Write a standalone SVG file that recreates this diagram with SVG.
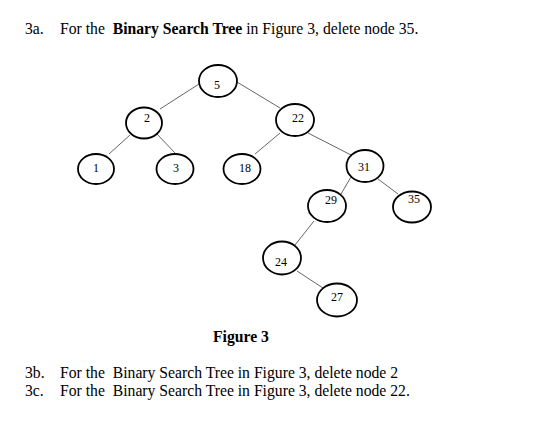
<svg xmlns="http://www.w3.org/2000/svg" width="533" height="425" viewBox="0 0 533 425">
<style>
.t{font-family:"Liberation Serif","Times New Roman",serif;font-size:15.7px;fill:#000;white-space:pre}
.b{font-weight:bold}
.n ellipse{fill:#fff;stroke:#000;stroke-width:1.8}
.n text{font-family:"Liberation Serif","Times New Roman",serif;font-size:12px;fill:#000;text-anchor:middle}
#edges line{stroke:#666;stroke-width:1}
</style>
<rect width="533" height="425" fill="#fff"/>
<text class="t" x="25" y="34">3a.</text>
<text class="t" x="60" y="34" xml:space="preserve">For the  <tspan class="b">Binary Search Tree</tspan> in Figure 3, delete node 35.</text>
<g id="edges">
<line x1="199" y1="84" x2="160" y2="109"/>
<line x1="237" y1="82" x2="280" y2="108"/>
<line x1="130" y1="135" x2="109" y2="154"/>
<line x1="157" y1="134" x2="175" y2="153"/>
<line x1="280" y1="133" x2="255" y2="154"/>
<line x1="308" y1="133" x2="353" y2="156"/>
<line x1="351" y1="177" x2="341" y2="194"/>
<line x1="378" y1="179" x2="398" y2="194"/>
<line x1="314" y1="221" x2="295" y2="245"/>
<line x1="297" y1="271" x2="323" y2="288"/>
</g>
<g id="n5" class="n"><ellipse cx="218" cy="81" rx="19" ry="16"/><text x="217" y="89">5</text></g>
<g id="n2" class="n"><ellipse cx="144" cy="123" rx="18" ry="15.5"/><text x="147" y="122">2</text></g>
<g id="n1" class="n"><ellipse cx="96" cy="169" rx="18" ry="15"/><text x="96" y="172">1</text></g>
<g id="n3" class="n"><ellipse cx="175" cy="169" rx="18.5" ry="15"/><text x="176" y="172">3</text></g>
<g id="n18" class="n"><ellipse cx="242" cy="169" rx="18.5" ry="15"/><text x="245" y="172">18</text></g>
<g id="n22" class="n"><ellipse cx="295" cy="120" rx="19" ry="16"/><text x="298" y="122">22</text></g>
<g id="n31" class="n"><ellipse cx="365" cy="166" rx="18.5" ry="16"/><text x="364" y="171">31</text></g>
<g id="n29" class="n"><ellipse cx="327" cy="206" rx="19" ry="16"/><text x="331" y="204">29</text></g>
<g id="n35" class="n"><ellipse cx="412" cy="207" rx="19" ry="15.5"/><text x="414" y="203">35</text></g>
<g id="n24" class="n"><ellipse cx="282" cy="258" rx="19" ry="16.5"/><text x="281" y="266">24</text></g>
<g id="n27" class="n"><ellipse cx="337" cy="300" rx="20" ry="16.5"/><text x="337" y="301">27</text></g>
<text class="t b" x="241" y="342" text-anchor="middle">Figure 3</text>
<text class="t" x="25" y="378">3b.</text>
<text class="t" x="60" y="378" xml:space="preserve">For the  Binary Search Tree in Figure 3, delete node 2</text>
<text class="t" x="25" y="396">3c.</text>
<text class="t" x="60" y="396" xml:space="preserve">For the  Binary Search Tree in Figure 3, delete node 22.</text>
</svg>
